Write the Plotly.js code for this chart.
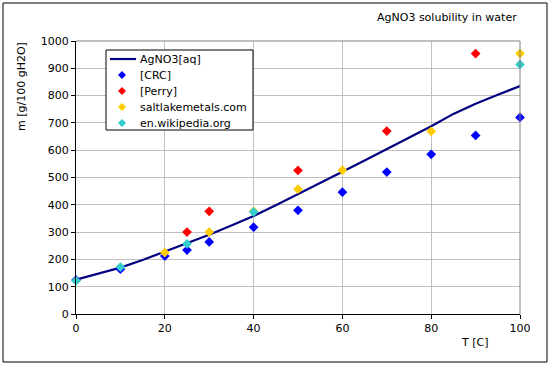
<!DOCTYPE html>
<html>
<head>
<meta charset="utf-8">
<script src="https://cdn.plot.ly/plotly-3.0.1.min.js"></script>
<style>
  html, body { margin: 0; padding: 0; background: #fff; }
  #chart { width: 555px; height: 371px; }
</style>
</head>
<body>
<div id="chart"></div>
<script>
// Model curve AgNO3[aq]
const curveT = [0, 5, 10, 15, 20, 25, 30, 35, 40, 45, 50, 55, 60, 65, 70, 75, 80, 85, 90, 95, 100];
const curveM = [126, 147, 170, 198, 229, 259, 290, 324, 359, 398, 440, 480, 521, 562, 603, 645, 688, 733, 770, 803, 835];

// [CRC]
const crcT = [0, 10, 20, 25, 30, 40, 50, 60, 70, 80, 90, 100];
const crcM = [125, 164, 212, 234, 264, 318, 380, 446, 520, 585, 654, 720];

// [Perry]
const perryT = [25, 30, 50, 70, 90];
const perryM = [300, 376, 526, 670, 954];

// saltlakemetals.com
const saltT = [20, 30, 40, 50, 60, 80, 100];
const saltM = [225, 300, 376, 457, 527, 669, 954];

// en.wikipedia.org
const wikiT = [0, 10, 25, 40, 100];
const wikiM = [122, 172, 257, 374, 914];

const seriesNames = ['AgNO3[aq]', '[CRC]', '[Perry]', 'saltlakemetals.com', 'en.wikipedia.org'];
const seriesColors = ['#000080', '#0000FF', '#FF0000', '#FFCC00', '#33CCCC'];
const chartTitle = 'AgNO3 solubility in water';
const xTitle = 'T [C]';
const yTitle = 'm [g/100 gH2O]';

const FONT = 'Verdana, "DejaVu Sans", sans-serif';

function pts(x, y, i) {
  return {
    x: x, y: y, name: seriesNames[i], type: 'scatter', mode: 'markers',
    cliponaxis: false, showlegend: false,
    marker: { symbol: 'diamond', size: 7.5, color: seriesColors[i], line: { width: 0 } }
  };
}

const data = [
  { x: curveT, y: curveM, name: seriesNames[0], type: 'scatter', mode: 'lines',
    line: { color: seriesColors[0], width: 2.2 }, cliponaxis: false, showlegend: false },
  pts(crcT, crcM, 1),
  pts(perryT, perryM, 2),
  pts(saltT, saltM, 3),
  pts(wikiT, wikiM, 4)
];

const L = 76, R = 35, T = 41, B = 57;
const W = 555 - L - R, H = 371 - T - B;
function px(xp) { return (xp - L) / W; }
function py(yp) { return (371 - B - yp) / H; }

const shapes = [
  { type: 'line', xref: 'paper', yref: 'paper', x0: 0, x1: 1, y0: 1, y1: 1,
    line: { color: '#808080', width: 1 } },
  { type: 'line', xref: 'paper', yref: 'paper', x0: 1, x1: 1, y0: 0, y1: 1,
    line: { color: '#808080', width: 1 } },
  { type: 'rect', xref: 'paper', yref: 'paper',
    x0: px(3), x1: px(547), y0: py(362), y1: py(3),
    line: { color: '#000000', width: 1 }, fillcolor: 'rgba(0,0,0,0)' },
  // legend box
  { type: 'rect', xref: 'paper', yref: 'paper',
    x0: px(106), x1: px(253), y0: py(130), y1: py(50),
    line: { color: '#000000', width: 1 }, fillcolor: '#ffffff', layer: 'above' }
];

const annotations = [
  { text: chartTitle, xref: 'paper', yref: 'paper', x: px(519), y: py(17),
    xanchor: 'right', yanchor: 'middle', showarrow: false,
    font: { family: FONT, size: 11, color: '#000000' } },
  { text: xTitle, xref: 'paper', yref: 'paper', x: px(474), y: py(342),
    xanchor: 'center', yanchor: 'middle', showarrow: false,
    font: { family: FONT, size: 11, color: '#000000' } },
  { text: yTitle, xref: 'paper', yref: 'paper', x: px(22), y: py(87),
    xanchor: 'center', yanchor: 'middle', showarrow: false, textangle: -90,
    font: { family: FONT, size: 11, color: '#000000' } }
];

// manual legend (Plotly's own legend rows are too tall for this layout)
const rowY0 = 59, rowStep = 16;
seriesNames.forEach(function (name, i) {
  const yy = py(rowY0 + i * rowStep);
  if (i === 0) {
    shapes.push({ type: 'line', xref: 'paper', yref: 'paper',
      x0: px(110), x1: px(136), y0: yy, y1: yy,
      line: { color: seriesColors[0], width: 2.2 }, layer: 'above' });
  } else {
    shapes.push({ type: 'path', xref: 'paper', yref: 'paper',
      xsizemode: 'pixel', ysizemode: 'pixel', xanchor: px(122), yanchor: yy,
      path: 'M 0 -4 L 4 0 L 0 4 L -4 0 Z',
      fillcolor: seriesColors[i], line: { width: 0 }, layer: 'above' });
  }
  annotations.push({ text: name, xref: 'paper', yref: 'paper',
    x: px(138), y: yy, xanchor: 'left', yanchor: 'middle', showarrow: false,
    font: { family: FONT, size: 11, color: '#000000' } });
});

const layout = {
  width: 555, height: 371,
  margin: { l: L, r: R, t: T, b: B, pad: 0 },
  paper_bgcolor: '#ffffff',
  plot_bgcolor: '#ffffff',
  font: { family: FONT, size: 11, color: '#000000' },
  showlegend: false,
  xaxis: {
    range: [0, 100], dtick: 20, tick0: 0,
    showline: true, linecolor: '#000000', linewidth: 1,
    ticks: 'outside', ticklen: 4, tickcolor: '#000000',
    showgrid: true, gridcolor: '#c0c0c0', gridwidth: 1,
    zeroline: false, fixedrange: true,
    tickfont: { family: FONT, size: 11, color: '#000000' }
  },
  yaxis: {
    range: [0, 1000], dtick: 100, tick0: 0,
    showline: true, linecolor: '#000000', linewidth: 1,
    ticks: 'outside', ticklen: 4, tickcolor: '#000000',
    showgrid: true, gridcolor: '#c0c0c0', gridwidth: 1,
    zeroline: false, fixedrange: true,
    tickfont: { family: FONT, size: 11, color: '#000000' }
  },
  shapes: shapes,
  annotations: annotations
};

Plotly.newPlot('chart', data, layout, { staticPlot: true, displayModeBar: false });
</script>
</body>
</html>
